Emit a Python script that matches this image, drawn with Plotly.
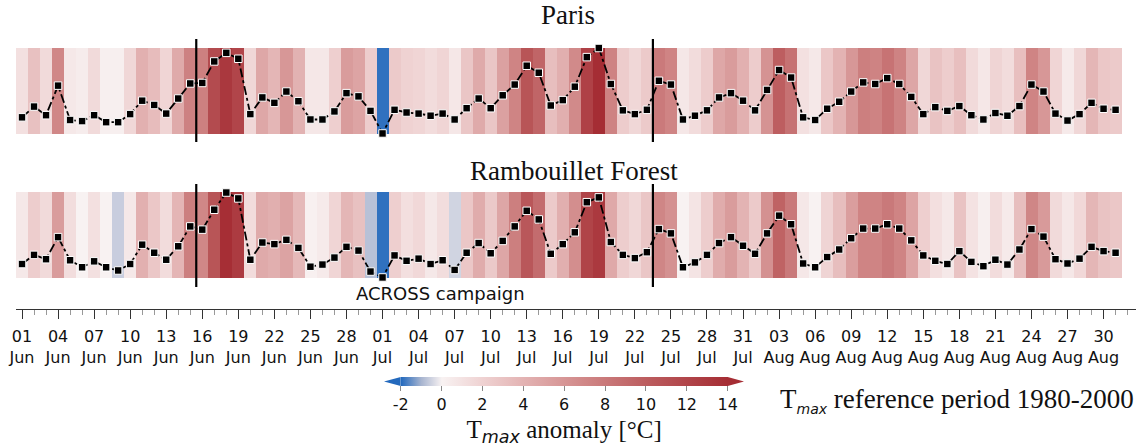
import plotly.graph_objects as go
import pandas as pd

# ---------------- data ----------------
dates = pd.date_range("2022-06-01", "2022-08-31", freq="D")  # 92 days

# Daily Tmax anomaly (degC) w.r.t. 1980-2000
paris = [1.1, 3.1, 1.5, 7.0, 0.6, 0.4, 1.5, 0.2, 0.2, 1.7, 4.2, 3.4, 1.8, 4.6, 7.4, 7.5,
         11.5, 13.1, 12.0, 1.7, 4.8, 3.8, 5.9, 4.1, 0.7, 0.7, 2.2, 5.6, 5.0, 2.3, -1.9, 2.5,
         2.0, 1.8, 1.4, 1.8, 0.7, 2.8, 4.6, 2.8, 5.2, 7.2, 10.7, 9.4, 3.3, 4.3, 6.8, 12.3,
         14.0, 7.3, 2.4, 1.7, 2.5, 7.9, 7.2, 0.7, 1.4, 2.4, 4.8, 5.6, 4.2, 2.4, 6.2, 9.9,
         8.5, 1.1, 0.6, 2.7, 4.0, 5.9, 7.6, 7.3, 8.4, 7.3, 4.9, 1.7, 3.0, 2.3, 3.2, 1.5,
         0.7, 1.9, 1.4, 3.2, 7.2, 5.9, 1.8, 0.5, 1.7, 3.8, 2.7, 2.5]

rambouillet = [0.6, 2.3, 1.5, 5.6, 1.3, 0.0, 1.1, 0.0, -0.6, 0.6, 4.2, 2.7, 1.4, 3.9, 7.6, 7.0,
               10.7, 13.9, 12.8, 1.4, 4.6, 4.3, 5.1, 3.6, 0.1, 0.5, 1.8, 3.8, 3.1, -0.8, -1.9, 2.2,
               1.2, 1.6, 0.6, 1.3, -0.5, 2.7, 4.5, 2.6, 4.9, 7.6, 10.5, 8.9, 2.5, 4.3, 6.5, 12.1,
               13.0, 4.7, 2.3, 1.7, 2.8, 7.1, 6.3, 0.0, 0.9, 2.3, 4.5, 5.6, 4.0, 2.5, 6.3, 9.6,
               8.0, 0.7, 0.0, 1.9, 3.3, 5.4, 7.2, 7.2, 8.0, 7.2, 5.0, 2.2, 1.2, 0.6, 3.0, 1.0,
               0.2, 1.4, 0.5, 3.3, 7.1, 5.7, 1.5, 0.7, 1.6, 3.8, 3.0, 2.7]

site_names = ["Paris", "Rambouillet Forest"]
campaign_bounds = ["2022-06-16", "2022-07-24"]   # vertical markers (start of these days)

cbar_ticks = [-2, 0, 2, 4, 6, 8, 10, 12, 14]
cbar_ticktext = ["-2", "0", "2", "4", "6", "8", "10", "12", "14"]
CMIN, CMAX = -2, 14

# colour scale (vlag-like, diverging around 0)
cs_values = [-2, -1, 0, 2, 4, 7, 10, 14]
cs_colors = ["#2369bd", "#a8b5d0", "#f8f2f2", "#efd2d2", "#e3b3b3",
             "#d08787", "#bc5d5f", "#a52d34"]

# ---------------- layout helpers ----------------
W, H = 1148, 445
def yp(px):
    return 1 - px / H
def xp(px):
    return px / W

n = len(dates)
idx = list(range(n))
XDOM = [xp(16), xp(1136)]
XRANGE = [-0.5, 92.7]

tickvals = idx[::3]
ticktext = [d.strftime("%d") + "<br>" + d.strftime("%b") for d in dates[::3]]

colorscale = [[(v - CMIN) / (CMAX - CMIN), c] for v, c in zip(cs_values, cs_colors)]

fig = go.Figure()
for vals, xa, ya in [(paris, "x", "y"), (rambouillet, "x2", "y2")]:
    fig.add_trace(go.Heatmap(
        z=[vals], x0=0, dx=1, y0=(CMIN + CMAX) / 2, dy=CMAX - CMIN,
        coloraxis="coloraxis", xaxis=xa, yaxis=ya, hoverinfo="skip"))
    fig.add_trace(go.Scatter(
        x=idx, y=vals, mode="lines+markers", xaxis=xa, yaxis=ya,
        line=dict(color="black", width=1.8, dash="dashdot"),
        marker=dict(symbol="square", size=7.5, color="black",
                    line=dict(color="white", width=1)),
        cliponaxis=False, showlegend=False))

# vertical lines
date_list = [d.strftime("%Y-%m-%d") for d in dates]
shapes = []
for b in campaign_bounds:
    xb = date_list.index(b) - 0.5
    for xa, top, bot in [("x", 39, 142), ("x2", 184, 287)]:
        shapes.append(dict(type="line", xref=xa, yref="paper", x0=xb, x1=xb,
                           y0=yp(bot), y1=yp(top),
                           line=dict(color="black", width=2.2)))

# colour bar extension triangles
BAR_L, BAR_R, BAR_T, BAR_B = 400.7, 727.7, 377, 386
shapes.append(dict(type="path", xref="paper", yref="paper",
                   path=f"M {xp(BAR_L)},{yp(BAR_T)} L {xp(384)},{yp((BAR_T+BAR_B)/2)} L {xp(BAR_L)},{yp(BAR_B)} Z",
                   fillcolor=cs_colors[0], line=dict(width=0)))
shapes.append(dict(type="path", xref="paper", yref="paper",
                   path=f"M {xp(BAR_R)},{yp(BAR_T)} L {xp(744)},{yp((BAR_T+BAR_B)/2)} L {xp(BAR_R)},{yp(BAR_B)} Z",
                   fillcolor=cs_colors[-1], line=dict(width=0)))

serif = "Liberation Serif, Times New Roman, serif"
sans = "DejaVu Sans, sans-serif"

def ann(text, x, y, font):
    return dict(text=text, x=xp(x), y=yp(y), xref="paper", yref="paper",
                xanchor="center", yanchor="middle", showarrow=False, font=font)

annotations = [
    ann(site_names[0], 568, 15, dict(family=serif, size=27, color="#111")),
    ann(site_names[1], 574, 171, dict(family=serif, size=27, color="#111")),
    ann("ACROSS campaign", 440, 293, dict(family=sans, size=18, color="#111")),
    ann("T<sub><span style='font-family:DejaVu Sans;font-size:14px'><i>max</i></span></sub> reference period 1980-2000",
        957, 400, dict(family=serif, size=27, color="#111")),
]

fig.update_layout(
    width=W, height=H,
    margin=dict(l=0, r=0, t=0, b=0, autoexpand=False),
    paper_bgcolor="white", plot_bgcolor="white",
    showlegend=False,
    xaxis=dict(domain=XDOM, range=XRANGE, visible=False, anchor="y"),
    yaxis=dict(domain=[yp(134), yp(48)], range=[CMIN, CMAX], visible=False, anchor="x"),
    xaxis2=dict(domain=XDOM, range=XRANGE, anchor="free", position=yp(309),
                showline=True, linecolor="#333", linewidth=1,
                ticks="outside", ticklen=9, tickwidth=1, tickcolor="#333",
                tickmode="array", tickvals=tickvals, ticktext=ticktext, tickangle=0,
                tickfont=dict(family=sans, size=16, color="#111"),
                ticklabelstandoff=4,
                minor=dict(tickmode="linear", tick0=0, dtick=1, ticks="outside",
                           ticklen=5, tickwidth=1, tickcolor="#999", showgrid=False),
                showgrid=False, zeroline=False, automargin=False),
    yaxis2=dict(domain=[yp(278), yp(192)], range=[CMIN, CMAX], visible=False, anchor="x2"),
    coloraxis=dict(
        cmin=CMIN, cmax=CMAX, colorscale=colorscale,
        colorbar=dict(
            orientation="h", xref="container", yref="container",
            x=xp((BAR_L + BAR_R) / 2), xanchor="center",
            y=yp(BAR_T), yanchor="top",
            len=BAR_R - BAR_L, lenmode="pixels",
            thickness=BAR_B - BAR_T, thicknessmode="pixels",
            xpad=0, ypad=0, outlinewidth=0,
            ticks="outside", ticklen=5, tickwidth=1, tickcolor="#888",
            tickmode="array", tickvals=cbar_ticks, ticktext=cbar_ticktext,
            tickfont=dict(family=sans, size=16, color="#111"),
            title=dict(text="T<sub><span style='font-family:DejaVu Sans'><i>max</i></span></sub> anomaly [°C]",
                       side="bottom", font=dict(family=serif, size=25, color="#111")),
        ),
    ),
    shapes=shapes,
    annotations=annotations,
)

fig.write_html("out.html", config={"displayModeBar": False},
               post_script="document.body.style.margin='0px';")
